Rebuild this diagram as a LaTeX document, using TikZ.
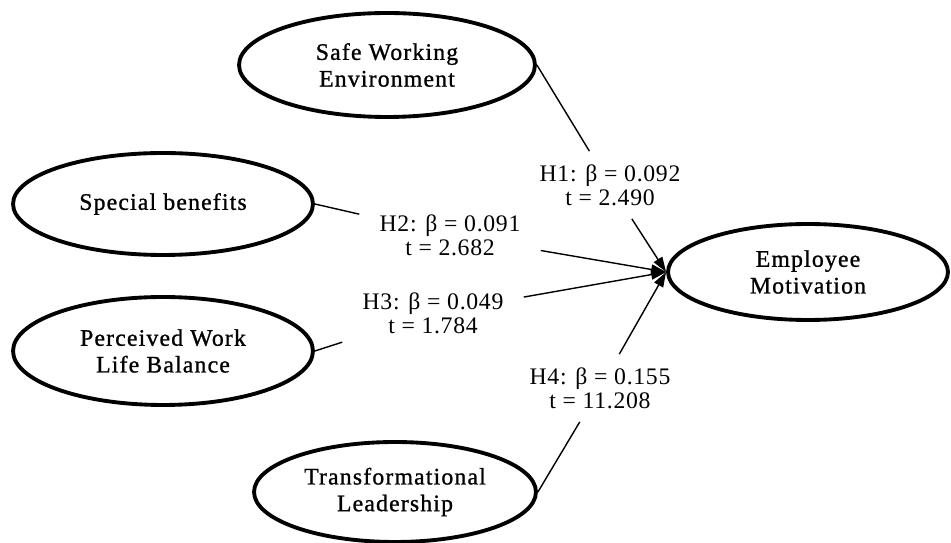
\documentclass[tikz,border=0pt]{standalone}
\usepackage{fontspec}
\setmainfont{Liberation Serif}
\newfontfamily\cstfont[LetterSpace=5, FakeBold=1]{Liberation Serif}
\newfontfamily\hypfont[LetterSpace=3]{Liberation Serif}
\usetikzlibrary{shapes.geometric,arrows.meta}
\begin{document}
\begin{tikzpicture}[x=0.02cm,y=-0.02cm,
  construct/.style={draw, ellipse, line width=2.2pt, inner sep=0pt, align=center,
    font=\cstfont\fontsize{13.5}{15.2}\selectfont},
  hyp/.style={align=center, inner xsep=0.4cm, inner ysep=0.26cm,
    font=\hypfont\fontsize{13.5}{13.7}\selectfont},
  link/.style={line width=0.8pt},
  arr/.style={line width=0.8pt, -{Triangle[length=0.3cm,width=0.2cm]}}]
\useasboundingbox (0,0) rectangle (951,543);
\node[construct, minimum width=5.92cm, minimum height=2.08cm] (safe) at (387,65) {Safe Working\\Environment};
\node[construct, minimum width=6.0cm, minimum height=2.04cm] (spec) at (163,204) {Special benefits};
\node[construct, minimum width=6.0cm, minimum height=2.16cm] (pwlb) at (163,351) {Perceived Work\\Life Balance};
\node[construct, minimum width=5.64cm, minimum height=2.0cm] (trans) at (395,492) {Transformational\\Leadership};
\node[construct, minimum width=5.6cm, minimum height=1.92cm] (emp) at (808,272) {Employee\\Motivation};
\node[hyp] (h1) at (610,185) {H1: β = 0.092\\t = 2.490};
\node[hyp] (h2) at (450,235) {H2: β = 0.091\\t = 2.682};
\node[hyp] (h3) at (433,313) {H3: β = 0.049\\t = 1.784};
\node[hyp] (h4) at (600,388) {H4: β = 0.155\\t = 11.208};
\draw[link] (safe.east) -- (h1);
\draw[arr] (h1) -- (emp.west);
\draw[link] (spec.east) -- (h2);
\draw[arr] (h2) -- (emp.west);
\draw[link] (pwlb.east) -- (h3);
\draw[arr] (h3) -- (emp.west);
\draw[link] (trans.east) -- (h4);
\draw[arr] (h4) -- (emp.west);
\end{tikzpicture}
\end{document}
